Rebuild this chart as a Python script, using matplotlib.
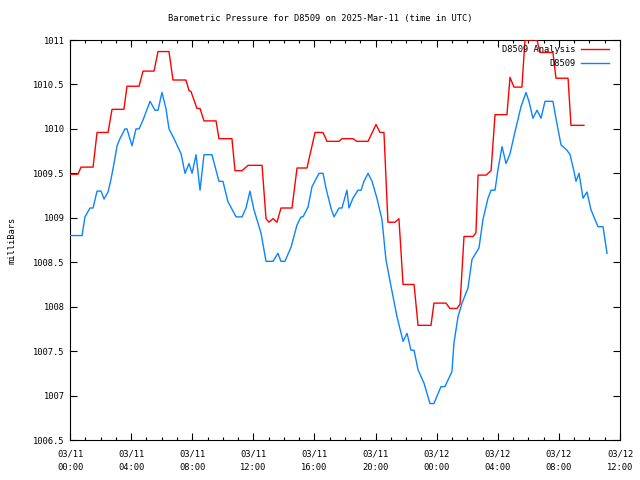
import matplotlib
matplotlib.use("Agg")
import matplotlib.pyplot as plt
import matplotlib.dates as mdates
from matplotlib.ticker import MultipleLocator, FormatStrFormatter
import pandas as pd

base_time = "2025-03-11 00:00"

# D8509 Analysis (red): hours after base_time, pressure (mb)
analysis_hours = [0.0, 0.52, 0.72, 1.51, 1.77, 2.49, 2.75, 3.53, 3.73, 4.52, 4.78, 5.50,
                  5.76, 6.48, 6.74, 7.59, 7.79, 7.92, 8.31, 8.51, 8.77, 9.56, 9.75, 10.60,
                  10.80, 11.26, 11.65, 12.57, 12.83, 13.02, 13.29, 13.55, 13.81, 14.53,
                  14.86, 15.51, 16.04, 16.56, 16.82, 17.61, 17.80, 18.52, 18.78, 19.51,
                  20.03, 20.29, 20.55, 20.81, 21.27, 21.53, 21.80, 22.52, 22.78, 23.63,
                  23.82, 24.61, 24.87, 25.33, 25.53, 25.79, 26.38, 26.57, 26.71, 27.23,
                  27.56, 27.82, 28.60, 28.80, 29.06, 29.58, 29.78, 30.57, 30.76, 31.61,
                  31.81, 32.60, 32.79, 33.64]
analysis_mb = [1009.49, 1009.49, 1009.57, 1009.57, 1009.96, 1009.96, 1010.22, 1010.22,
               1010.48, 1010.48, 1010.65, 1010.65, 1010.87, 1010.87, 1010.55, 1010.55,
               1010.43, 1010.42, 1010.23, 1010.23, 1010.09, 1010.09, 1009.89, 1009.89,
               1009.53, 1009.53, 1009.59, 1009.59, 1008.99, 1008.95, 1008.99, 1008.95,
               1009.11, 1009.11, 1009.56, 1009.56, 1009.96, 1009.96, 1009.86, 1009.86,
               1009.89, 1009.89, 1009.86, 1009.86, 1010.05, 1009.96, 1009.96, 1008.95,
               1008.95, 1008.99, 1008.25, 1008.25, 1007.79, 1007.79, 1008.04, 1008.04,
               1007.98, 1007.98, 1008.03, 1008.79, 1008.79, 1008.83, 1009.48, 1009.48,
               1009.53, 1010.16, 1010.16, 1010.58, 1010.47, 1010.47, 1011.0, 1011.0,
               1010.86, 1010.86, 1010.57, 1010.57, 1010.04, 1010.04]

# D8509 observations (blue)
obs_hours = [0.0, 0.79, 0.98, 1.31, 1.51, 1.77, 2.03, 2.23, 2.49, 2.68, 2.88, 3.08, 3.27,
             3.60, 3.73, 4.06, 4.32, 4.52, 4.78, 5.24, 5.56, 5.76, 6.02, 6.28, 6.48, 6.81,
             7.27, 7.53, 7.79, 7.99, 8.25, 8.51, 8.77, 9.29, 9.75, 10.01, 10.34, 10.87,
             11.26, 11.52, 11.78, 12.04, 12.50, 12.83, 13.29, 13.61, 13.81, 14.07, 14.47,
             14.86, 15.12, 15.25, 15.58, 15.84, 16.30, 16.56, 16.76, 17.08, 17.28, 17.61,
             17.80, 18.13, 18.26, 18.52, 18.85, 19.05, 19.24, 19.51, 19.77, 20.09, 20.42,
             20.68, 21.01, 21.40, 21.80, 22.06, 22.32, 22.52, 22.78, 23.17, 23.56, 23.82,
             24.28, 24.54, 25.00, 25.13, 25.40, 25.66, 26.05, 26.31, 26.77, 27.03, 27.36,
             27.56, 27.82, 28.01, 28.28, 28.54, 28.80, 29.13, 29.52, 29.85, 30.04, 30.30,
             30.57, 30.83, 31.09, 31.61, 31.87, 32.14, 32.53, 32.73, 32.99, 33.12, 33.32,
             33.58, 33.84, 34.10, 34.56, 34.89, 35.15]
obs_mb = [1008.80, 1008.80, 1009.01, 1009.11, 1009.11, 1009.30, 1009.30, 1009.21, 1009.29,
          1009.43, 1009.61, 1009.81, 1009.89, 1010.00, 1010.00, 1009.81, 1010.00, 1010.00,
          1010.10, 1010.31, 1010.21, 1010.21, 1010.41, 1010.23, 1010.00, 1009.89, 1009.72,
          1009.50, 1009.61, 1009.50, 1009.71, 1009.31, 1009.71, 1009.71, 1009.41, 1009.41,
          1009.18, 1009.01, 1009.01, 1009.11, 1009.30, 1009.09, 1008.83, 1008.51, 1008.51,
          1008.60, 1008.51, 1008.51, 1008.67, 1008.92, 1009.01, 1009.01, 1009.12, 1009.35,
          1009.50, 1009.50, 1009.33, 1009.11, 1009.01, 1009.11, 1009.11, 1009.31, 1009.11,
          1009.22, 1009.31, 1009.31, 1009.41, 1009.50, 1009.41, 1009.22, 1008.98, 1008.53,
          1008.23, 1007.89, 1007.61, 1007.70, 1007.51, 1007.51, 1007.29, 1007.14, 1006.91,
          1006.91, 1007.10, 1007.10, 1007.27, 1007.59, 1007.89, 1008.04, 1008.21, 1008.53,
          1008.66, 1008.98, 1009.22, 1009.31, 1009.31, 1009.54, 1009.80, 1009.61, 1009.72,
          1009.97, 1010.25, 1010.41, 1010.31, 1010.12, 1010.21, 1010.12, 1010.31, 1010.31,
          1010.06, 1009.82, 1009.76, 1009.71, 1009.52, 1009.41, 1009.50, 1009.22, 1009.29,
          1009.09, 1008.90, 1008.90, 1008.60]

x_start, x_end = "2025-03-11 00:00", "2025-03-12 12:00"
y_min, y_max = 1006.5, 1011.0

t0 = pd.Timestamp(base_time)
analysis_t = [t0 + pd.Timedelta(hours=h) for h in analysis_hours]
obs_t = [t0 + pd.Timedelta(hours=h) for h in obs_hours]

plt.rcParams['font.family'] = ['DejaVu Sans Mono']
fs = 6.3

fig = plt.figure(figsize=(6.4, 4.8), dpi=100)
ax = fig.add_axes([70/640, 1-440/480, 550/640, 400/480])

ax.plot(analysis_t, analysis_mb, color='#ff0000', lw=1.0, label='D8509 Analysis', zorder=3)
ax.plot(obs_t, obs_mb, color='#0a84ff', lw=1.0, label='D8509', zorder=3)

ax.set_xlim(pd.Timestamp(x_start), pd.Timestamp(x_end))
ax.set_ylim(y_min, y_max)

ax.xaxis.set_major_locator(mdates.HourLocator(byhour=range(0, 24, 4)))
ax.xaxis.set_minor_locator(mdates.HourLocator())
ax.xaxis.set_major_formatter(mdates.DateFormatter('%m/%d\n%H:%M'))
ax.yaxis.set_major_locator(MultipleLocator(0.5))
ax.yaxis.set_major_formatter(FormatStrFormatter('%g'))

ax.tick_params(which='both', direction='in', top=True, right=True, labelsize=fs, width=0.8)
ax.tick_params(which='major', length=5, pad=4)
ax.tick_params(axis='x', which='major', pad=7)
ax.tick_params(which='minor', length=2.5)
for lbl in ax.get_xticklabels():
    lbl.set_linespacing(1.6)
for s in ax.spines.values():
    s.set_linewidth(0.8)

fig.text(0.5, 1-18/480, 'Barometric Pressure for D8509 on 2025-Mar-11 (time in UTC)',
         fontsize=fs, ha='center', va='center')
ax.set_ylabel('milliBars', fontsize=fs, labelpad=12)

leg = ax.legend(loc='upper right', frameon=False, fontsize=fs, markerfirst=False,
                handlelength=3.2, handletextpad=0.6, labelspacing=0.55,
                borderaxespad=0.2, bbox_to_anchor=(0.99, 1.0))
for t in leg.get_texts():
    t.set_ha('right')

fig.savefig('out.png', dpi=100)
